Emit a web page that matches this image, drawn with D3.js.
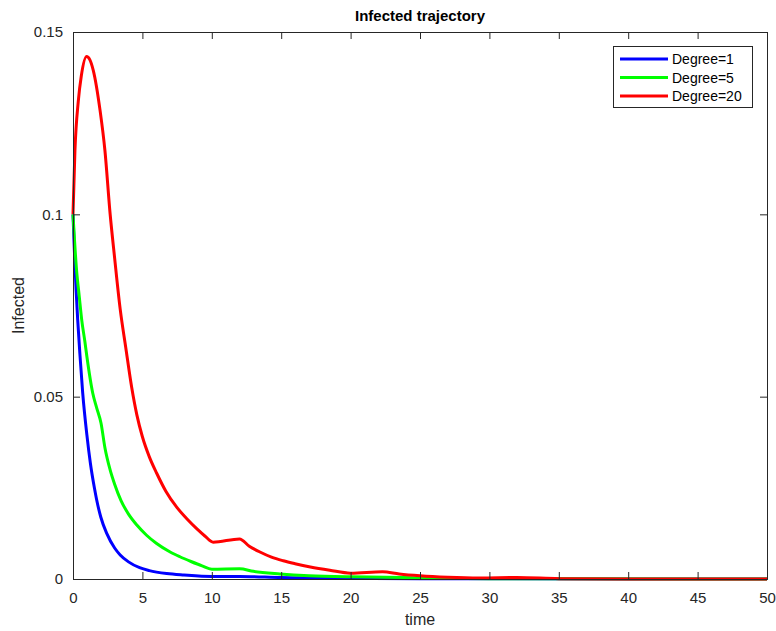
<!DOCTYPE html>
<html>
<head>
<meta charset="utf-8">
<script src="https://cdn.jsdelivr.net/npm/d3@7"></script>
<style>
  body { margin: 0; background: #fff; }
  svg { font-family: "Liberation Sans", Arial, Helvetica, sans-serif; }
</style>
</head>
<body>
<svg id="chart" width="776" height="631"></svg>
<script>
// values
const seriesNames = ["Degree=1", "Degree=5", "Degree=20"];
const seriesColors = ["#0000ff", "#00ff00", "#ff0000"];

const degree1 = [
  [0, 0.1], [0.1, 0.09], [0.22, 0.0795], [0.34, 0.071], [0.5, 0.0615], [0.7, 0.051],
  [1.0, 0.0395], [1.25, 0.0318], [1.54, 0.025], [1.7, 0.0218], [2.0, 0.017],
  [2.43, 0.0125], [3.0, 0.0085], [3.4, 0.0066], [4.0, 0.0047], [4.8, 0.0031],
  [5.5, 0.0023], [6.75, 0.0015], [8, 0.0011], [10, 0.0007], [12, 0.0007],
  [15, 0.0004], [20, 0.0002], [25, 0.0001], [30, 0.00005], [50, 0]
];
const degree5 = [
  [0, 0.1], [0.25, 0.085], [0.45, 0.0775], [0.63, 0.071], [0.86, 0.065], [1.0, 0.061],
  [1.42, 0.051], [1.7, 0.047], [2.02, 0.0427], [2.3, 0.036], [2.67, 0.030],
  [3.0, 0.026], [3.46, 0.0215], [4.0, 0.0178], [4.6, 0.0148], [5.3, 0.012],
  [6.0, 0.0098], [7.0, 0.0074], [7.7, 0.0061], [8.5, 0.0048], [9.3, 0.0036],
  [10, 0.0027], [12, 0.0028], [13, 0.0021], [14.9, 0.0014], [17, 0.0009],
  [20, 0.0006], [22.5, 0.0005], [25, 0.0003], [30, 0.0001], [35, 0.00005], [50, 0]
];
const degree20 = [
  [0, 0.1], [0.14, 0.1175], [0.38, 0.131], [0.6, 0.138], [0.98, 0.1433], [1.2, 0.1425],
  [1.46, 0.1395], [1.95, 0.1285], [2.3, 0.1175], [2.67, 0.1003], [3.0, 0.088],
  [3.4, 0.074], [3.8, 0.0635], [4.23, 0.0525], [4.6, 0.045], [5.0, 0.039],
  [5.5, 0.0335], [6.03, 0.029], [6.7, 0.024], [7.47, 0.0197], [8.2, 0.0165],
  [8.91, 0.0138], [9.5, 0.0118], [10.1, 0.0101], [12, 0.011], [12.7, 0.009],
  [13.47, 0.0074], [14.3, 0.006], [15.15, 0.005], [16, 0.0042], [17.1, 0.0033],
  [18.5, 0.0024], [20, 0.0016], [22.3, 0.002], [23.5, 0.0014], [25, 0.0009],
  [27, 0.0005], [29.3, 0.0003], [32, 0.0004], [35, 0.0001], [40, 0], [50, 0]
];
const allSeries = [degree1, degree5, degree20];

const xTicks = [0, 5, 10, 15, 20, 25, 30, 35, 40, 45, 50];
const yTicks = [0, 0.05, 0.1, 0.15];

const W = 776, H = 631;
const margin = { top: 32, right: 9, bottom: 52, left: 73 };

const svg = d3.select("#chart");

let x = d3.scaleLinear().domain([0, 50]).range([margin.left, W - margin.right]);
let y = d3.scaleLinear().domain([0, 0.15]).range([H - margin.bottom, margin.top]);

const axisColor = "#262626";
const tickLen = 7;

// lines
let line = d3.line()
  .x(d => x(d[0]))
  .y(d => y(d[1]))
  .curve(d3.curveMonotoneX);

allSeries.forEach((s, i) => {
  svg.append("path")
    .datum(s)
    .attr("d", line)
    .attr("fill", "none")
    .attr("stroke", seriesColors[i])
    .attr("stroke-width", 3)
    .attr("stroke-linejoin", "round");
});

// axes (ticks inward, box on all sides)
let bottomAxis = d3.axisBottom(x).tickValues(xTicks).tickSize(-tickLen).tickPadding(13);
let topAxis = d3.axisTop(x).tickValues(xTicks).tickSize(-tickLen).tickFormat("");
let leftAxis = d3.axisLeft(y).tickValues(yTicks).tickSize(-tickLen).tickPadding(10)
  .tickFormat(d3.format("~g"));
let rightAxis = d3.axisRight(y).tickValues(yTicks).tickSize(-tickLen).tickFormat("");

const gB = svg.append("g").attr("transform", `translate(0,${H - margin.bottom})`).call(bottomAxis);
const gT = svg.append("g").attr("transform", `translate(0,${margin.top})`).call(topAxis);
const gL = svg.append("g").attr("transform", `translate(${margin.left},0)`).call(leftAxis);
const gR = svg.append("g").attr("transform", `translate(${W - margin.right},0)`).call(rightAxis);

[gB, gT, gL, gR].forEach(g => {
  g.select(".domain").attr("stroke", axisColor).attr("stroke-width", 1);
  g.selectAll(".tick line").attr("stroke", axisColor);
  g.selectAll(".tick text")
    .attr("fill", "#262626")
    .attr("font-size", 15)
    .attr("font-family", "Liberation Sans, Arial, sans-serif");
});

// title and labels
svg.append("text")
  .attr("x", (margin.left + W - margin.right) / 2)
  .attr("y", 21)
  .attr("text-anchor", "middle")
  .attr("font-size", 15)
  .attr("font-weight", "bold")
  .attr("fill", "#000")
  .text("Infected trajectory");

svg.append("text")
  .attr("x", (margin.left + W - margin.right) / 2)
  .attr("y", 625)
  .attr("text-anchor", "middle")
  .attr("font-size", 16)
  .attr("fill", "#262626")
  .text("time");

svg.append("text")
  .attr("transform", `translate(24,${(margin.top + H - margin.bottom) / 2}) rotate(-90)`)
  .attr("text-anchor", "middle")
  .attr("font-size", 16)
  .attr("fill", "#262626")
  .text("Infected");

// legend
const legend = svg.append("g");
legend.append("rect")
  .attr("x", 613.5).attr("y", 46.5)
  .attr("width", 139).attr("height", 61)
  .attr("fill", "#fff")
  .attr("stroke", axisColor)
  .attr("stroke-width", 1);

seriesNames.forEach((name, i) => {
  const ly = 59 + i * 18.5;
  legend.append("line")
    .attr("x1", 620).attr("x2", 668)
    .attr("y1", ly).attr("y2", ly)
    .attr("stroke", seriesColors[i])
    .attr("stroke-width", 3);
  legend.append("text")
    .attr("x", 672).attr("y", ly + 5)
    .attr("font-size", 14)
    .attr("fill", "#000")
    .text(name);
});
</script>
</body>
</html>
